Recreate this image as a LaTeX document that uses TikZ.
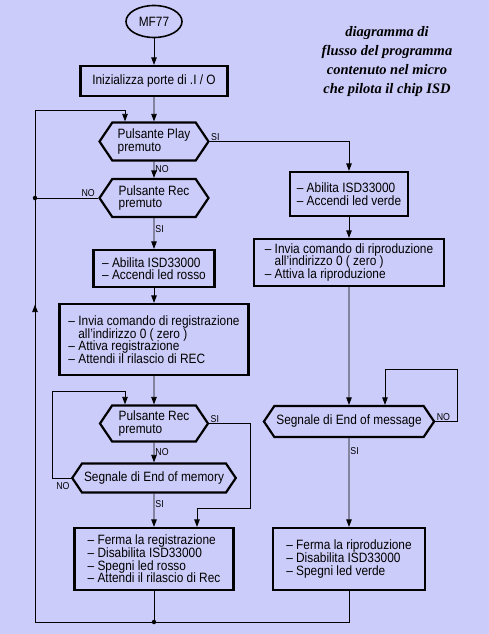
\documentclass[tikz,border=0pt]{standalone}
\usepackage{fontspec}
\setmainfont{Liberation Sans}[FakeStretch=0.88]
\newfontfamily\titlefont{Liberation Serif}
\usepackage{tikz}
\usetikzlibrary{arrows.meta, positioning, shapes.geometric, shapes.symbols, decorations.markings}
\definecolor{bgcol}{RGB}{204,204,250}

\begin{document}
\begin{tikzpicture}[
  x=1pt, y=-1pt,
  font=\fontsize{13.5}{12.6}\selectfont,
  block/.style={draw, rectangle, line width=2.2pt, align=left, inner sep=2pt},
  decision/.style={draw, signal, signal to=east and west, signal pointer angle=112, line width=2.2pt, align=left, inner sep=2pt},
  startnode/.style={draw, ellipse, line width=1.6pt, minimum width=56pt, minimum height=32pt},
  arrow/.style={-{Triangle[length=7.5pt, width=5.5pt]}, line width=0.8pt},
  line/.style={line width=0.8pt},
  lab/.style={font=\fontsize{10}{10}\selectfont, inner sep=1pt},
  junction/.style={circle, fill, inner sep=0pt, minimum size=4.5pt},
  uparrow/.style={line, postaction={decorate}, decoration={markings, mark=at position 0.62 with {\arrow{Triangle[length=7.5pt, width=5.5pt]}}}}
]
\fill[bgcol] (0,0) rectangle (489,634);

% left column
\node[startnode] (start) at (154,21.5) {MF77};
\node[block, minimum width=147pt, minimum height=30pt, align=center] (init) at (154,81) {Inizializza porte di .I / O};
\node[decision, minimum width=109pt, minimum height=38pt] (play) at (154,141.5) {Pulsante Play\\premuto};
\node[decision, minimum width=109pt, minimum height=38pt] (rec) at (154,198) {Pulsante Rec\\premuto};
\node[block, minimum width=121pt, minimum height=37pt] (onred) at (154,268.5) {– Abilita ISD33000\\– Accendi led rosso};
\node[block, minimum width=189pt, minimum height=71pt] (cmdrec) at (154,339.5) {– Invia comando di registrazione\\\phantom{– }all'indirizzo 0 ( zero )\\– Attiva registrazione\\– Attendi il rilascio di REC};
\node[decision, minimum width=108pt, minimum height=36pt] (rec2) at (154,423.5) {Pulsante Rec\\premuto};
\node[decision, minimum width=163pt, minimum height=29pt] (eomem) at (154,478) {Segnale di End of memory};
\node[block, minimum width=159pt, minimum height=62pt] (stoprec) at (154,559) {– Ferma la registrazione\\– Disabilita ISD33000\\– Spegni led rosso\\– Attendi il rilascio di Rec};

% right column
\node[block, minimum width=118pt, minimum height=44pt] (ongreen) at (349,194) {– Abilita ISD33000\\– Accendi led verde};
\node[block, minimum width=190pt, minimum height=47pt] (cmdplay) at (349,262.5) {– Invia comando di riproduzione\\\phantom{– }all'indirizzo 0 ( zero )\\– Attiva la riproduzione};
\node[decision, minimum width=162pt, minimum height=31pt] (eomsg) at (349,421.5) {Segnale di End of message};
\node[block, minimum width=152pt, minimum height=62pt] (stopplay) at (349,559) {– Ferma la riproduzione\\– Disabilita ISD33000\\– Spegni led verde};

\node[font={\titlefont\bfseries\itshape\fontsize{14.5}{19}\selectfont}, align=center] (title) at (387,62) {diagramma di\\flusso del programma\\contenuto nel micro\\che pilota il chip ISD};

% turning points
\coordinate (jrec) at (35,198);
\coordinate (tl) at (35,110);
\coordinate (bl) at (35,622);
\coordinate (bm) at (154,622);
\coordinate (br) at (349,622);
\coordinate (memb) at (52,478);
\coordinate (memt) at (52,391);
\coordinate (siturn) at (250,423.5);
\coordinate (sidown) at (250,508);
\coordinate (msgr) at (457,421.5);
\coordinate (msgt) at (457,369);

\draw[arrow] (start) -- (init);
\draw[arrow] (init) -- (play);
\draw[arrow] (play) -- node[lab, right, pos=0.45] {NO} (rec);
\draw[arrow] (play.east) -| node[lab, above right, pos=0] {SI} (ongreen);
\draw[arrow] (rec) -- node[lab, right, pos=0.35] {SI} (onred);
\draw[line] (rec.west) -- node[lab, above left, pos=0, xshift=-2pt] {NO} (jrec);
\draw[arrow] (onred) -- (cmdrec);
\draw[arrow] (cmdrec) -- (rec2);
\draw[arrow] (rec2) -- node[lab, right] {NO} (eomem);
\draw[arrow] (eomem) -- node[lab, right, pos=0.3] {SI} (stoprec);
\draw[arrow] (eomem.west) -- node[lab, below left, pos=0, yshift=-3pt] {NO} (memb) -- (memt) -| ([xshift=-29pt]rec2.north);
\draw[arrow] (rec2.east) -- node[lab, above right, pos=0] {SI} (siturn) -- (sidown) -| ([xshift=43pt]stoprec.north);
\draw[line] (stoprec) -- (bm);
\draw[line] (stopplay) -- (br) -- (bl);
\draw[uparrow] (bl) -- (tl);
\draw[arrow] (tl) -| ([xshift=-29pt]play.north);
\node[junction] (dotrec) at (jrec) {};
\node[junction] (dotbot) at (bm) {};

\draw[arrow] (ongreen) -- (cmdplay);
\draw[arrow] (cmdplay) -- (eomsg);
\draw[arrow] (eomsg) -- node[lab, right, pos=0.15] {SI} (stopplay);
\draw[arrow] (eomsg.east) -- node[lab, above right, pos=0] {NO} (msgr) -- (msgt) -| ([xshift=36pt]eomsg.north);
\end{tikzpicture}
\end{document}
